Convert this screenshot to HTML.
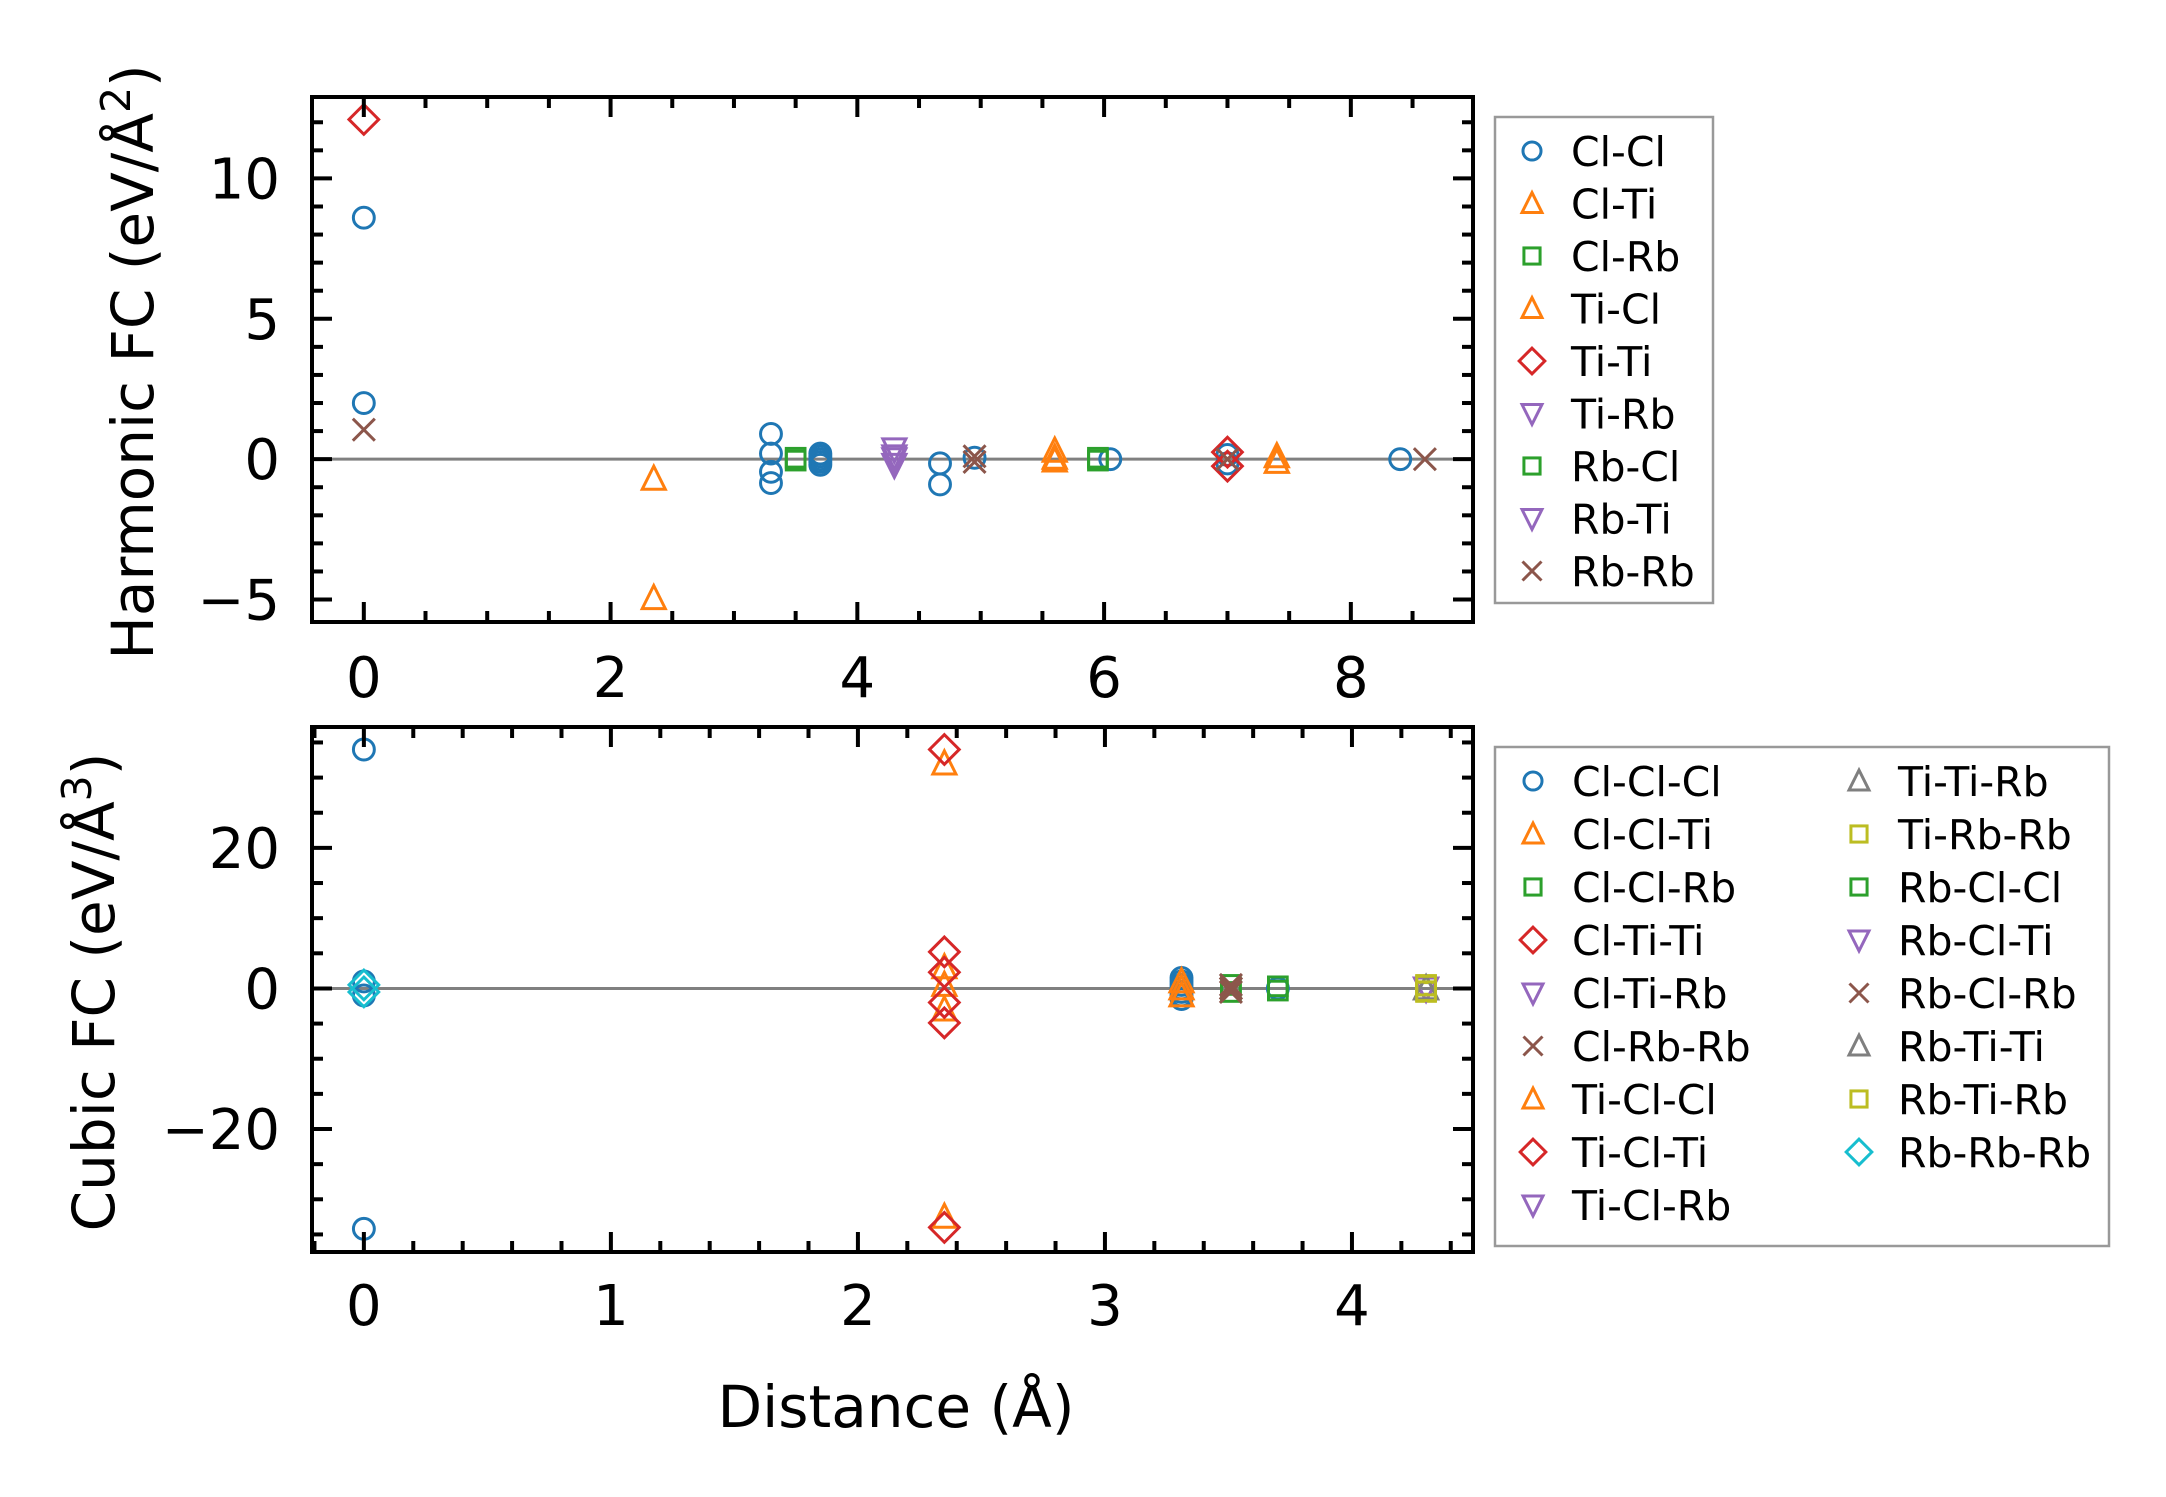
<!DOCTYPE html>
<html><head><meta charset="utf-8"><style>
html,body{margin:0;padding:0;background:#fff;}
svg{display:block;font-family:"DejaVu Sans","Liberation Sans",sans-serif;}
</style></head><body>
<svg id="chart" width="2166" height="1497" viewBox="0 0 2166 1497" xmlns="http://www.w3.org/2000/svg">
<rect width="2166" height="1497" fill="#fff"/>
<g id="top"></g>
<g id="bot"></g>
<text transform="translate(153,362) rotate(-90)" text-anchor="middle" font-size="58">Harmonic FC (eV/Å<tspan font-size="41" dy="-23">2</tspan><tspan dy="23">)</tspan></text>
<text transform="translate(114,992) rotate(-90)" text-anchor="middle" font-size="58">Cubic FC (eV/Å<tspan font-size="41" dy="-23">3</tspan><tspan dy="23">)</tspan></text>
<text x="896" y="1427" text-anchor="middle" font-size="58">Distance (Å)</text>
</svg>
<script>
// ---------- Harmonic data ----------
const hNames = ["Cl-Cl","Cl-Ti","Cl-Rb","Ti-Cl","Ti-Ti","Ti-Rb","Rb-Cl","Rb-Ti","Rb-Rb"];
const hMarkers = ["o","^","s","^","D","v","s","v","x"];
const hColors = ["#1f77b4","#ff7f0e","#2ca02c","#ff7f0e","#d62728","#9467bd","#2ca02c","#9467bd","#8c564b"];
const hClClX = [0,0,3.3,3.3,3.3,3.3,3.7,3.7,3.7,3.7,3.7,4.67,4.67,4.95,6.05,7.0,7.0,8.4];
const hClClY = [8.6,2.0,0.9,0.2,-0.45,-0.85,0.2,0.1,0,-0.1,-0.2,-0.15,-0.9,0.05,0,0.15,-0.15,0];
const hClTiX = [2.35,2.35];
const hClTiY = [-0.7,-4.95];
const hClRbX = [3.5,3.5];
const hClRbY = [0.05,-0.05];
const hTiClX = [5.6,5.6,5.6,7.4,7.4];
const hTiClY = [0.3,0.05,-0.05,0.1,-0.1];
const hTiTiX = [0,7.0,7.0];
const hTiTiY = [12.1,0.25,-0.25];
const hTiRbX = [4.3,4.3,4.3];
const hTiRbY = [0.35,0.1,-0.2];
const hRbClX = [5.95,5.95];
const hRbClY = [0.05,-0.05];
const hRbTiX = [4.3];
const hRbTiY = [0.0];
const hRbRbX = [0,4.95,4.95,7.0,8.6];
const hRbRbY = [1.05,0.1,-0.1,0,0];
const hXTicks = [0,2,4,6,8];
const hYTicks = [-5,0,5,10];
const hYTickLabels = ["\u22125","0","5","10"];

// ---------- Cubic data ----------
const cNames = ["Cl-Cl-Cl","Cl-Cl-Ti","Cl-Cl-Rb","Cl-Ti-Ti","Cl-Ti-Rb","Cl-Rb-Rb","Ti-Cl-Cl","Ti-Cl-Ti","Ti-Cl-Rb","Ti-Ti-Rb","Ti-Rb-Rb","Rb-Cl-Cl","Rb-Cl-Ti","Rb-Cl-Rb","Rb-Ti-Ti","Rb-Ti-Rb","Rb-Rb-Rb"];
const cMarkers = ["o","^","s","D","v","x","^","D","v","^","s","s","v","x","^","s","D"];
const cColors = ["#1f77b4","#ff7f0e","#2ca02c","#d62728","#9467bd","#8c564b","#ff7f0e","#d62728","#9467bd","#7f7f7f","#bcbd22","#2ca02c","#9467bd","#8c564b","#7f7f7f","#bcbd22","#17becf"];
const cClClClX = [0,0,0,0,3.31,3.31,3.31,3.31,3.31,3.31,3.31,3.7];
const cClClClY = [34,-34.2,1.0,-1.0,1.5,1.0,0.5,0,-0.5,-1.0,-1.5,0];
const cClClTiX = [2.35,2.35,2.35,2.35,2.35];
const cClClTiY = [32,3,0.5,-3,-32.5];
const cClClRbX = [3.51,3.51];
const cClClRbY = [0.5,-0.5];
const cClTiTiX = [2.35,2.35];
const cClTiTiY = [34,-34];
const cClTiRbX = [4.3];
const cClTiRbY = [0];
const cClRbRbX = [3.51,3.51,3.51];
const cClRbRbY = [0.5,0,-0.5];
const cTiClClX = [3.31,3.31,3.31];
const cTiClClY = [1.0,0,-1.0];
const cTiClTiX = [2.35,2.35,2.35,2.35];
const cTiClTiY = [5.2,2.3,-2.0,-4.9];
const cTiClRbX = [4.3];
const cTiClRbY = [0];
const cTiTiRbX = [4.3];
const cTiTiRbY = [0];
const cTiRbRbX = [4.3,4.3];
const cTiRbRbY = [0.5,-0.5];
const cRbClClX = [3.7,3.7];
const cRbClClY = [0.3,-0.3];
const cRbClTiX = [4.3];
const cRbClTiY = [0];
const cRbClRbX = [3.51];
const cRbClRbY = [0];
const cRbTiTiX = [4.3];
const cRbTiTiY = [0];
const cRbTiRbX = [4.3,4.3];
const cRbTiRbY = [0.4,-0.4];
const cRbRbRbX = [0,0];
const cRbRbRbY = [0.5,-0.5];
const cXTicks = [0,1,2,3,4];
const cYTicks = [-20,0,20];
const cYTickLabels = ["\u221220","0","20"];

const NS = "http://www.w3.org/2000/svg";
function mk(tag, attrs, parent){
  const e = document.createElementNS(NS, tag);
  for (const k in attrs) e.setAttribute(k, attrs[k]);
  parent.appendChild(e);
  return e;
}
function marker(g, type, cx, cy, color, size){
  const s = size;
  let e;
  if (type === "o") e = mk("circle", {cx:cx, cy:cy, r:s*0.95}, g);
  else if (type === "s") e = mk("rect", {x:cx-s*0.85, y:cy-s*0.85, width:s*1.7, height:s*1.7}, g);
  else if (type === "D") e = mk("polygon", {points:`${cx},${cy-s*1.35} ${cx+s*1.35},${cy} ${cx},${cy+s*1.35} ${cx-s*1.35},${cy}`}, g);
  else if (type === "^") e = mk("polygon", {points:`${cx},${cy-s*1.15} ${cx+s*1.05},${cy+s*0.95} ${cx-s*1.05},${cy+s*0.95}`}, g);
  else if (type === "v") e = mk("polygon", {points:`${cx},${cy+s*1.15} ${cx+s*1.05},${cy-s*0.95} ${cx-s*1.05},${cy-s*0.95}`}, g);
  else e = mk("path", {d:`M${cx-s},${cy-s}L${cx+s},${cy+s}M${cx-s},${cy+s}L${cx+s},${cy-s}`}, g);
  e.setAttribute("fill","none");
  e.setAttribute("stroke",color);
  e.setAttribute("stroke-width","3");
  return e;
}

function panel(gid, cfg){
  const g = document.getElementById(gid);
  const L=312, R=1473, T=cfg.top, B=cfg.bottom;
  const sx = v => L + (v - cfg.xmin) / (cfg.xmax - cfg.xmin) * (R - L);
  const sy = v => B - (v - cfg.ymin) / (cfg.ymax - cfg.ymin) * (B - T);
  const zl = mk("line", {x1:L, x2:R, y1:sy(0), y2:sy(0), stroke:"#808080", "stroke-width":3}, g);
  
  
  cfg.series.forEach((se, i) => {
    const sg = mk("g", {}, g);
    
    
    se[0].forEach((xv, j) => {
      const m = marker(sg, cfg.markers[i], sx(xv), sy(se[1][j]), cfg.colors[i], 11);
      
      
    });
  });
  const tg = mk("g", {stroke:"#000", "stroke-width":4}, g);
  
  
  const eps = 1e-6;
  for (let v = Math.ceil(cfg.xmin / cfg.xminor) * cfg.xminor; v <= cfg.xmax + eps; v += cfg.xminor) {
    const major = cfg.xticks.some(t => Math.abs(t - v) < eps);
    const len = major ? 20 : 11;
    const x = sx(v);
    mk("line", {x1:x, x2:x, y1:B, y2:B-len}, tg);
    mk("line", {x1:x, x2:x, y1:T, y2:T+len}, tg);
  }
  for (let v = Math.ceil(cfg.ymin / cfg.yminor) * cfg.yminor; v <= cfg.ymax + eps; v += cfg.yminor) {
    const major = cfg.yticks.some(t => Math.abs(t - v) < eps);
    const len = major ? 20 : 11;
    const y = sy(v);
    mk("line", {x1:L, x2:L+len, y1:y, y2:y}, tg);
    mk("line", {x1:R, x2:R-len, y1:y, y2:y}, tg);
  }
  const fr = mk("rect", {x:L, y:T, width:R-L, height:B-T, fill:"none", stroke:"#000", "stroke-width":4}, g);
  
  
  cfg.xticks.forEach(v => {
    const t = mk("text", {x:sx(v), y:B+cfg.xlabOff, "text-anchor":"middle", "font-size":56}, g);
    
    
    t.textContent = String(v);
  });
  cfg.yticks.forEach((v, i) => {
    const t = mk("text", {x:280, y:sy(v)+20, "text-anchor":"end", "font-size":56}, g);
    
    
    t.textContent = cfg.ylabels[i];
  });
  const lg = mk("g", {}, g);
  
  
  const box = mk("rect", {x:1495, y:cfg.leg.top, width:cfg.leg.w, height:cfg.leg.h, fill:"#fff", stroke:"#999", "stroke-width":2.5}, lg);
  
  
  cfg.names.forEach((n, i) => {
    const col = Math.floor(i / cfg.leg.rows), row = i % cfg.leg.rows;
    const mx = cfg.leg.mx[col], cy = cfg.leg.y0 + row * cfg.leg.step;
    const eg = mk("g", {}, lg);
    
    
    marker(eg, cfg.markers[i], mx, cy, cfg.colors[i], 9.5);
    const t = mk("text", {x:mx+39, y:cy+15, "font-size":41}, eg);
    t.textContent = n;
  });
}

panel("top", {
  top:97, bottom:622, xmin:-0.42, xmax:8.99, ymin:-5.8, ymax:12.9,
  xticks:hXTicks, yticks:hYTicks, ylabels:hYTickLabels, xminor:0.5, yminor:1, xlabOff:75,
  names:hNames, markers:hMarkers, colors:hColors,
  series:[[hClClX,hClClY],[hClTiX,hClTiY],[hClRbX,hClRbY],[hTiClX,hTiClY],[hTiTiX,hTiTiY],[hTiRbX,hTiRbY],[hRbClX,hRbClY],[hRbTiX,hRbTiY],[hRbRbX,hRbRbY]],
  leg:{top:117, w:218, h:486, rows:9, mx:[1532], y0:151, step:52.5}
});
panel("bot", {
  top:727, bottom:1252, xmin:-0.21, xmax:4.49, ymin:-37.5, ymax:37.2,
  xticks:cXTicks, yticks:cYTicks, ylabels:cYTickLabels, xminor:0.2, yminor:5, xlabOff:73,
  names:cNames, markers:cMarkers, colors:cColors,
  series:[[cClClClX,cClClClY],[cClClTiX,cClClTiY],[cClClRbX,cClClRbY],[cClTiTiX,cClTiTiY],[cClTiRbX,cClTiRbY],[cClRbRbX,cClRbRbY],[cTiClClX,cTiClClY],[cTiClTiX,cTiClTiY],[cTiClRbX,cTiClRbY],[cTiTiRbX,cTiTiRbY],[cTiRbRbX,cTiRbRbY],[cRbClClX,cRbClClY],[cRbClTiX,cRbClTiY],[cRbClRbX,cRbClRbY],[cRbTiTiX,cRbTiTiY],[cRbTiRbX,cRbTiRbY],[cRbRbRbX,cRbRbRbY]],
  leg:{top:747, w:614, h:499, rows:9, mx:[1533,1859], y0:781, step:53}
});
</script>
</body></html>
